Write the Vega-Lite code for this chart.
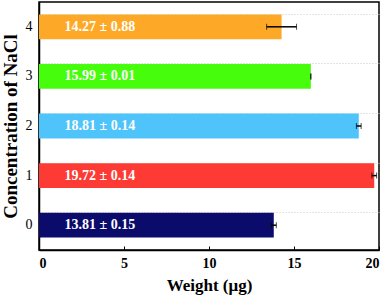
{
  "$schema": "https://vega.github.io/schema/vega-lite/v6.json",
  "width": 340,
  "height": 248,
  "autosize": {"type": "none"},
  "padding": {"left": 39, "top": 2, "right": 9, "bottom": 46},
  "background": "white",
  "config": {
    "view": {"stroke": "black", "strokeWidth": 1.5},
    "font": "Liberation Serif"
  },
  "data": {
    "values": [
      {"conc": "0", "weight": 13.81, "err": 0.15, "label": "13.81 ± 0.15"},
      {"conc": "1", "weight": 19.72, "err": 0.14, "label": "19.72 ± 0.14"},
      {"conc": "2", "weight": 18.81, "err": 0.14, "label": "18.81 ± 0.14"},
      {"conc": "3", "weight": 15.99, "err": 0.01, "label": "15.99 ± 0.01"},
      {"conc": "4", "weight": 14.27, "err": 0.88, "label": "14.27 ± 0.88"}
    ]
  },
  "layer": [
    {
      "mark": {"type": "bar"},
      "encoding": {
        "y": {
          "field": "conc", "type": "nominal", "sort": "descending",
          "scale": {"paddingInner": 0.5, "paddingOuter": 0.25},
          "axis": {
            "title": "Concentration of NaCl",
            "titleFont": "Liberation Serif", "titleFontSize": 19, "titleFontWeight": "bold", "titleColor": "black",
            "titlePadding": 5,
            "labelFont": "Liberation Serif", "labelFontSize": 14, "labelColor": "black", "labelAngle": 0,
            "domainColor": "black", "domainWidth": 1.5,
            "tickColor": "black", "tickSize": -4, "labelPadding": 11,
            "grid": false
          }
        },
        "x": {
          "field": "weight", "type": "quantitative", "title": "Weight  (μg)",
          "scale": {"domain": [0, 20], "nice": false},
          "axis": {
            "titleFont": "Liberation Serif", "titleFontSize": 17, "titleFontWeight": "bold", "titleColor": "black",
            "titlePadding": 7,
            "values": [0, 5, 10, 15, 20],
            "labelFont": "Liberation Serif", "labelFontSize": 14, "labelFontWeight": "bold", "labelColor": "black",
            "domainColor": "black", "domainWidth": 1.5,
            "tickColor": "black", "tickSize": -4, "labelPadding": 10,
            "grid": false
          }
        },
        "color": {
          "field": "conc", "type": "nominal", "legend": null,
          "scale": {"domain": ["0", "1", "2", "3", "4"], "range": ["#0b0b6b", "#fe3a34", "#4fc4fb", "#46fd0c", "#fda927"]}
        }
      }
    },
    {
      "mark": {"type": "rule", "color": "#d8d8d8", "strokeDash": [1, 2]},
      "encoding": {
        "y": {
          "field": "conc", "type": "nominal", "sort": "descending",
          "axis": {"orient": "right", "grid": true, "bandPosition": 0, "gridColor": "#c8c8c8", "gridDash": [1, 2],
                   "labels": false, "ticks": false, "domain": false, "title": null}
        },
        "opacity": {"value": 0}
      }
    },
    {
      "mark": {"type": "errorbar", "ticks": {"size": 6, "color": "black", "strokeWidth": 1.5}, "rule": {"color": "black", "strokeWidth": 1.5}},
      "encoding": {
        "y": {"field": "conc", "type": "nominal", "sort": "descending", "axis": null},
        "x": {"field": "weight", "type": "quantitative", "title": "Weight  (μg)"},
        "xError": {"field": "err"}
      }
    },
    {
      "mark": {"type": "text", "align": "left", "baseline": "middle", "color": "white", "fontWeight": "bold", "fontSize": 14, "font": "Liberation Serif"},
      "encoding": {
        "y": {"field": "conc", "type": "nominal", "sort": "descending", "axis": null},
        "x": {"datum": 1.5},
        "text": {"field": "label"}
      }
    }
  ],
  "resolve": {"axis": {"y": "independent"}}
}
